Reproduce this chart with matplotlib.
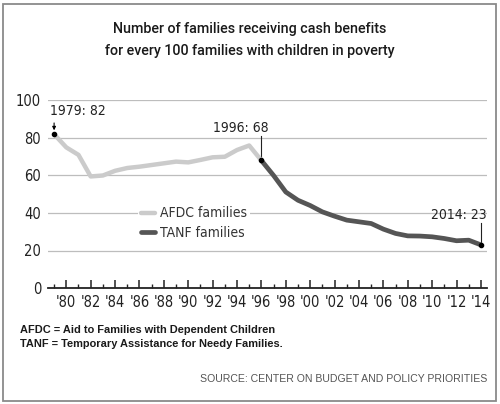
import matplotlib
matplotlib.use("Agg")
import matplotlib.pyplot as plt
from matplotlib.patches import Rectangle

# cash benefit recipients per 100 poor families with children
afdc_years = list(range(1979, 1997))
afdc_vals = [82, 75, 71, 59.5, 60, 62.5, 64, 64.7, 65.6, 66.5, 67.4, 67, 68.3, 69.7, 70, 73.6, 76, 68]
tanf_years = list(range(1996, 2015))
tanf_vals = [68, 60, 51.2, 46.8, 44, 40.6, 38.3, 36.2, 35.3, 34.4, 31.4, 29.1, 27.8, 27.7, 27.3, 26.4, 25.2, 25.5, 23]

xtick_years = list(range(1980, 2015, 2))
xtick_labels = ["'%02d" % (y % 100) for y in xtick_years]
ytick_vals = [0, 20, 40, 60, 80, 100]

title = "Number of families receiving cash benefits\nfor every 100 families with children in poverty"
notes = "AFDC = Aid to Families with Dependent Children\nTANF = Temporary Assistance for Needy Families."
source = "SOURCE: CENTER ON BUDGET AND POLICY PRIORITIES"

W, H = 500, 404
fig = plt.figure(figsize=(W / 100, H / 100), dpi=100)
fig.patch.set_facecolor("white")

cond = dict(family="DejaVu Sans", stretch="condensed")

# frame around everything
fig.add_artist(Rectangle((3 / W, 3 / H), 493 / W, 397 / H, transform=fig.transFigure,
                         fill=False, edgecolor="#8a8a8a", lw=1.3))

ax = fig.add_axes([48 / W, 1 - 288 / H, 439 / W, 187.5 / H])
ax.set_xlim(1978.5, 2014.5)
ax.set_ylim(0, 100)
for s in ["top", "right", "left"]:
    ax.spines[s].set_visible(False)
ax.spines["bottom"].set_color("#222222")
ax.spines["bottom"].set_linewidth(1.3)

ax.yaxis.grid(True, color="#bdbdbd", lw=0.9)
ax.set_axisbelow(True)
ax.tick_params(axis="y", length=0, pad=5, labelsize=10.5, labelcolor="#222222")
ax.set_yticks(ytick_vals)
ax.set_xticks(xtick_years)
ax.set_xticks(range(1979, 2015), minor=True)
ax.set_xticklabels(xtick_labels)
ax.tick_params(axis="x", which="major", direction="in", length=6, width=1.1,
               color="#222222", pad=5, labelsize=10.5, labelcolor="#222222")
ax.tick_params(axis="x", which="minor", direction="in", length=3, width=1.0, color="#222222")
for lab in ax.get_xticklabels() + ax.get_yticklabels():
    lab.set_fontstretch("condensed")

ax.plot(afdc_years, afdc_vals, color="#cbcbcb", lw=3.2, solid_capstyle="round",
        solid_joinstyle="round", label="AFDC families", zorder=3)
ax.plot(tanf_years, tanf_vals, color="#555555", lw=3.4, solid_capstyle="round",
        solid_joinstyle="round", label="TANF families", zorder=4)

# callouts
pts = [(afdc_years[0], afdc_vals[0]), (tanf_years[0], tanf_vals[0]), (tanf_years[-1], tanf_vals[-1])]
ax.scatter([p[0] for p in pts], [p[1] for p in pts], s=9, color="black", zorder=5)
ax.annotate("", xy=(1979, 82.6), xytext=(1979, 89.5),
            arrowprops=dict(arrowstyle="-|>", color="black", lw=0.8, mutation_scale=5))
ax.text(1978.7, 90.5, "1979: 82", ha="left", va="bottom", fontsize=10, color="#222222", **cond)
ax.plot([1996, 1996], [68, 81], color="#222222", lw=0.8)
ax.text(1996.6, 81.8, "1996: 68", ha="right", va="bottom", fontsize=10, color="#222222", **cond)
ax.plot([2014, 2014], [23, 34.5], color="#222222", lw=0.8)
ax.text(2014.45, 35.2, "2014: 23", ha="right", va="bottom", fontsize=10, color="#222222", **cond)

leg = ax.legend(loc="upper left", bbox_to_anchor=(0.205, 0.45), frameon=True, fancybox=False,
                framealpha=1, edgecolor="none", facecolor="white", handlelength=1.05,
                handletextpad=0.35, labelspacing=0.42, borderpad=0.2, borderaxespad=0,
                prop=dict(size=10, **cond))
for t in leg.get_texts():
    t.set_color("#333333")

fig.text(0.5, 1 - 40 / H, title, ha="center", va="center", fontsize=10.3, family="Roboto",
         fontweight="medium", color="#1a1a1a", linespacing=1.7)
fig.text(20 / W, 1 - 337 / H, notes, ha="left", va="center", fontsize=7.9, family="Liberation Sans",
         fontweight="bold", color="#1a1a1a", linespacing=1.55)
fig.text(487 / W, 1 - 379 / H, source, ha="right", va="center", fontsize=7.6, family="Liberation Sans",
         color="#555555")

fig.savefig("out.png", dpi=100, facecolor="white")
